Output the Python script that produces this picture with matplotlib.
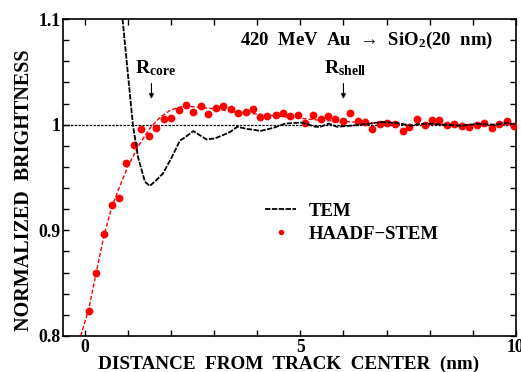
import matplotlib
matplotlib.use("Agg")
import matplotlib.pyplot as plt
from matplotlib.ticker import MultipleLocator, FixedLocator, FixedFormatter

plt.rcParams['font.family'] = ['Liberation Serif', 'DejaVu Serif']
plt.rcParams['font.weight'] = 'bold'
plt.rcParams['mathtext.fontset'] = 'custom'
plt.rcParams['mathtext.rm'] = 'Liberation Serif:bold'
plt.rcParams['mathtext.it'] = 'Liberation Serif:bold'
plt.rcParams['mathtext.bf'] = 'Liberation Serif:bold'

# HAADF-STEM data points
stem_x = [0.10, 0.27, 0.45, 0.63, 0.79, 0.95, 1.14, 1.31, 1.49, 1.66, 1.83, 2.01,
          2.18, 2.35, 2.52, 2.69, 2.87, 3.05, 3.21, 3.39, 3.56, 3.74, 3.91, 4.07,
          4.24, 4.43, 4.60, 4.77, 4.95, 5.12, 5.30, 5.47, 5.64, 5.81, 5.98, 6.16,
          6.33, 6.50, 6.67, 6.84, 7.02, 7.19, 7.37, 7.53, 7.70, 7.88, 8.05, 8.22,
          8.40, 8.57, 8.74, 8.92, 9.09, 9.26, 9.44, 9.61, 9.78, 9.96]
stem_y = [0.824, 0.860, 0.897, 0.924, 0.931, 0.964, 0.981, 0.996, 0.989, 0.997, 1.005, 1.006,
          1.014, 1.019, 1.012, 1.018, 1.010, 1.016, 1.018, 1.015, 1.011, 1.012, 1.015, 1.007,
          1.008, 1.009, 1.011, 1.008, 1.009, 1.002, 1.009, 1.005, 1.008, 1.005, 1.0035, 1.011,
          1.0035, 1.0026, 0.9956, 1.001, 1.002, 1.001, 0.994, 0.998, 1.005, 1.000, 1.004, 1.004,
          1.000, 1.001, 0.999, 0.998, 1.000, 1.002, 0.997, 1.001, 1.003, 0.999]

# Fit curve to HAADF-STEM (red dashed)
fit_x = [-0.09, 0.10, 0.27, 0.45, 0.63, 0.80, 1.00, 1.25, 1.50, 1.75, 2.00, 2.25, 2.50,
         3.00, 3.50, 4.00, 4.50, 5.00, 5.50, 6.00, 6.50, 7.00, 7.50, 8.50, 10.0]
fit_y = [0.800, 0.826, 0.860, 0.895, 0.922, 0.940, 0.960, 0.980, 0.996, 1.007, 1.014, 1.017, 1.017,
         1.015, 1.012, 1.010, 1.008, 1.006, 1.004, 1.003, 1.002, 1.001, 1.000, 1.000, 1.000]

# TEM profile
tem_x = [0.88, 1.00, 1.12, 1.24, 1.40, 1.51, 1.65, 1.82, 2.02, 2.21, 2.33, 2.52, 2.67, 2.83,
         3.02, 3.20, 3.37, 3.54, 3.76, 3.95, 4.07, 4.38, 4.65, 5.00, 5.12, 5.35, 5.47, 5.66,
         5.85, 6.16, 6.40, 6.63, 6.86, 7.09, 7.33, 7.56, 7.71, 8.00, 8.33, 8.72, 9.10, 9.50,
         9.80, 10.0]
tem_y = [1.100, 1.050, 1.000, 0.969, 0.946, 0.942, 0.947, 0.954, 0.969, 0.985, 0.988, 0.994, 0.990, 0.986,
         0.987, 0.990, 0.993, 0.998, 0.996, 0.995, 0.994, 0.997, 1.001, 1.002, 1.001, 0.998, 0.998, 1.001,
         0.998, 0.999, 1.000, 1.001, 1.0025, 1.002, 1.001, 0.999, 1.0005, 1.001, 1.000, 0.999, 1.0007, 1.000,
         1.0015, 1.000]

x_major = [0, 5, 10]
x_major_labels = ['0', '5', '10']
y_major = [0.8, 0.9, 1.0, 1.1]
y_major_labels = ['0.8', '0.9', '1', '1.1']

fig = plt.figure(figsize=(5.21, 3.72), dpi=100)
ax = fig.add_axes([63/521, 36/372, 453/521, 317/372])

ax.axhline(1.0, color='black', lw=0.9, ls=(0, (2, 1)), zorder=1)
ax.plot(fit_x, fit_y, color='red', lw=1.0, ls=(0, (3, 1.5)), zorder=2)
ax.plot(stem_x, stem_y, 'o', color='red', ms=5.6, mec='none', zorder=3, label='HAADF\u2212STEM')
ax.plot(tem_x, tem_y, color='black', lw=1.3, ls=(0, (3, 0.8)), zorder=4, label='TEM')

ax.set_xlim(-0.5, 10)
ax.set_ylim(0.8, 1.1)
ax.xaxis.set_major_locator(FixedLocator(x_major))
ax.xaxis.set_major_formatter(FixedFormatter(x_major_labels))
ax.xaxis.set_minor_locator(MultipleLocator(1))
ax.yaxis.set_major_locator(FixedLocator(y_major))
ax.yaxis.set_major_formatter(FixedFormatter(y_major_labels))
ax.yaxis.set_minor_locator(MultipleLocator(0.02))
ax.tick_params(which='both', direction='in', top=True, right=True, length=4, width=1.0, labelsize=12.8)
ax.tick_params(axis='y', pad=1.5)
ax.tick_params(axis='x', pad=2.5)
for s in ax.spines.values():
    s.set_linewidth(1.2)

handles, labels = ax.get_legend_handles_labels()
order = [1, 0]
ax.legend([handles[i] for i in order], [labels[i] for i in order],
          loc='upper left', bbox_to_anchor=(0.446, 0.42), frameon=False,
          fontsize=13.5, handlelength=1.65, handletextpad=0.7, labelspacing=0.3,
          borderpad=0, borderaxespad=0, markerscale=0.7)

ax.text(3.6, 1.0795, '420  MeV  Au  \u2192  SiO$_2$(20  nm)', fontsize=13.5, ha='left', va='center')
ax.text(1.16, 1.0483, 'R$_{core}$', fontsize=14, ha='left', va='baseline')
ax.text(5.54, 1.0483, 'R$_{shell}$', fontsize=14, ha='left', va='baseline')
for xa in [1.55, 6.0]:
    ax.annotate('', xy=(xa, 1.0218), xytext=(xa, 1.0416),
                arrowprops=dict(arrowstyle='-|>', color='black', lw=0.8, mutation_scale=7))

fig.text(24/521, 1 - 190/372, 'NORMALIZED  BRIGHTNESS', rotation=90, fontsize=14.5,
         ha='center', va='center')
fig.text(288.5/521, 1 - 364.5/372, 'DISTANCE  FROM  TRACK  CENTER  (nm)', fontsize=13.8,
         ha='center', va='center')

fig.savefig('out.png', dpi=100)
